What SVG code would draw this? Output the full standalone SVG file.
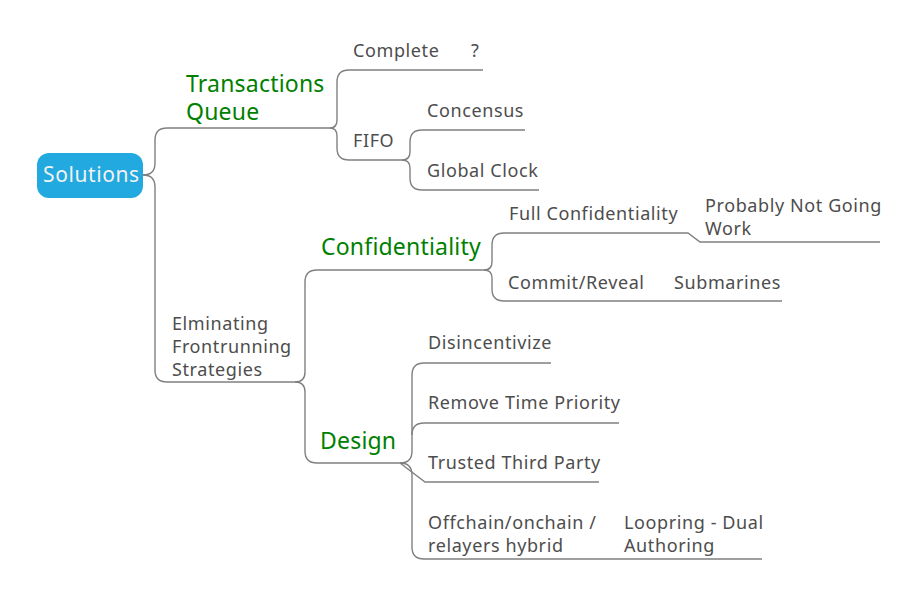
<svg xmlns="http://www.w3.org/2000/svg" width="917" height="596" viewBox="0 0 917 596">
<style>
.c{fill:none;stroke:#808080;stroke-width:1.4}
.t{font-family:"Noto Sans","Open Sans",sans-serif;font-size:18px;letter-spacing:0.6px;fill:#4d4d4d}
.g{font-family:"Noto Sans","Open Sans",sans-serif;font-size:23px;letter-spacing:0.2px;fill:#008000}
.r{font-family:"Noto Sans","Open Sans",sans-serif;font-size:21px;letter-spacing:0.6px;fill:#f2f2f2}
</style>
<rect width="917" height="596" fill="#ffffff"/>
<g id="connectors">
<path class="c" d="M143,175 Q155,175 155,163 V140 Q155,128 167,128 H330"/>
<path class="c" d="M330,128 Q337,128 337,120 V82 Q337,70 349,70 H483"/>
<path class="c" d="M330,128 Q337,128 337,136 V148 Q337,160 349,160 H402"/>
<path class="c" d="M402,160 Q410,160 410,152 V142 Q410,130 422,130 H525"/>
<path class="c" d="M402,160 Q410,160 410,168 V178 Q410,190 422,190 H539"/>
<path class="c" d="M143,175 Q155,175 155,187 V370 Q155,382 167,382 H295"/>
<path class="c" d="M295,382 Q305,382 305,372 V282 Q305,270 317,270 H484"/>
<path class="c" d="M295,382 Q305,382 305,392 V451 Q305,463 317,463 H400"/>
<path class="c" d="M484,270 Q492,270 492,262 V245 Q492,233 504,233 H688 L700,242 H880"/>
<path class="c" d="M484,270 Q492,270 492,278 V289 Q492,301 504,301 H782"/>
<path class="c" d="M400,463 Q412,463 412,451 V375 Q412,363 424,363 H551"/>
<path class="c" d="M412,435 Q412,423 424,423 H619"/>
<path class="c" d="M400,463 L425,482 H599"/>
<path class="c" d="M400,463 Q412,463 412,475 V547 Q412,559 424,559 H762"/>
</g>
<g id="root">
<rect x="37" y="153" width="106" height="45" rx="12" fill="#22a9df"/>
<text class="r" x="43" y="182">Solutions</text>
</g>
<g id="transactions-queue"><text class="g" x="186" y="92">Transactions</text><text class="g" x="186" y="120">Queue</text></g>
<g id="complete"><text class="t" x="353" y="57">Complete</text></g>
<g id="question"><text class="t" x="471" y="57">?</text></g>
<g id="fifo"><text class="t" x="353" y="147">FIFO</text></g>
<g id="concensus"><text class="t" x="427" y="117">Concensus</text></g>
<g id="global-clock"><text class="t" x="427" y="177">Global Clock</text></g>
<g id="eliminating"><text class="t" x="172" y="330">Elminating</text><text class="t" x="172" y="353">Frontrunning</text><text class="t" x="172" y="376">Strategies</text></g>
<g id="confidentiality"><text class="g" x="321" y="255">Confidentiality</text></g>
<g id="full-confidentiality"><text class="t" x="509" y="220">Full Confidentiality</text></g>
<g id="probably-not"><text class="t" x="705" y="212">Probably Not Going</text><text class="t" x="705" y="235">Work</text></g>
<g id="commit-reveal"><text class="t" x="508" y="289">Commit/Reveal</text></g>
<g id="submarines"><text class="t" x="674" y="289">Submarines</text></g>
<g id="design"><text class="g" x="320" y="449">Design</text></g>
<g id="disincentivize"><text class="t" x="428" y="349">Disincentivize</text></g>
<g id="remove-time-priority"><text class="t" x="428" y="409">Remove Time Priority</text></g>
<g id="trusted-third-party"><text class="t" x="428" y="469">Trusted Third Party</text></g>
<g id="offchain"><text class="t" x="428" y="529">Offchain/onchain /</text><text class="t" x="428" y="552">relayers hybrid</text></g>
<g id="loopring"><text class="t" x="624" y="529">Loopring - Dual</text><text class="t" x="624" y="552">Authoring</text></g>
</svg>
